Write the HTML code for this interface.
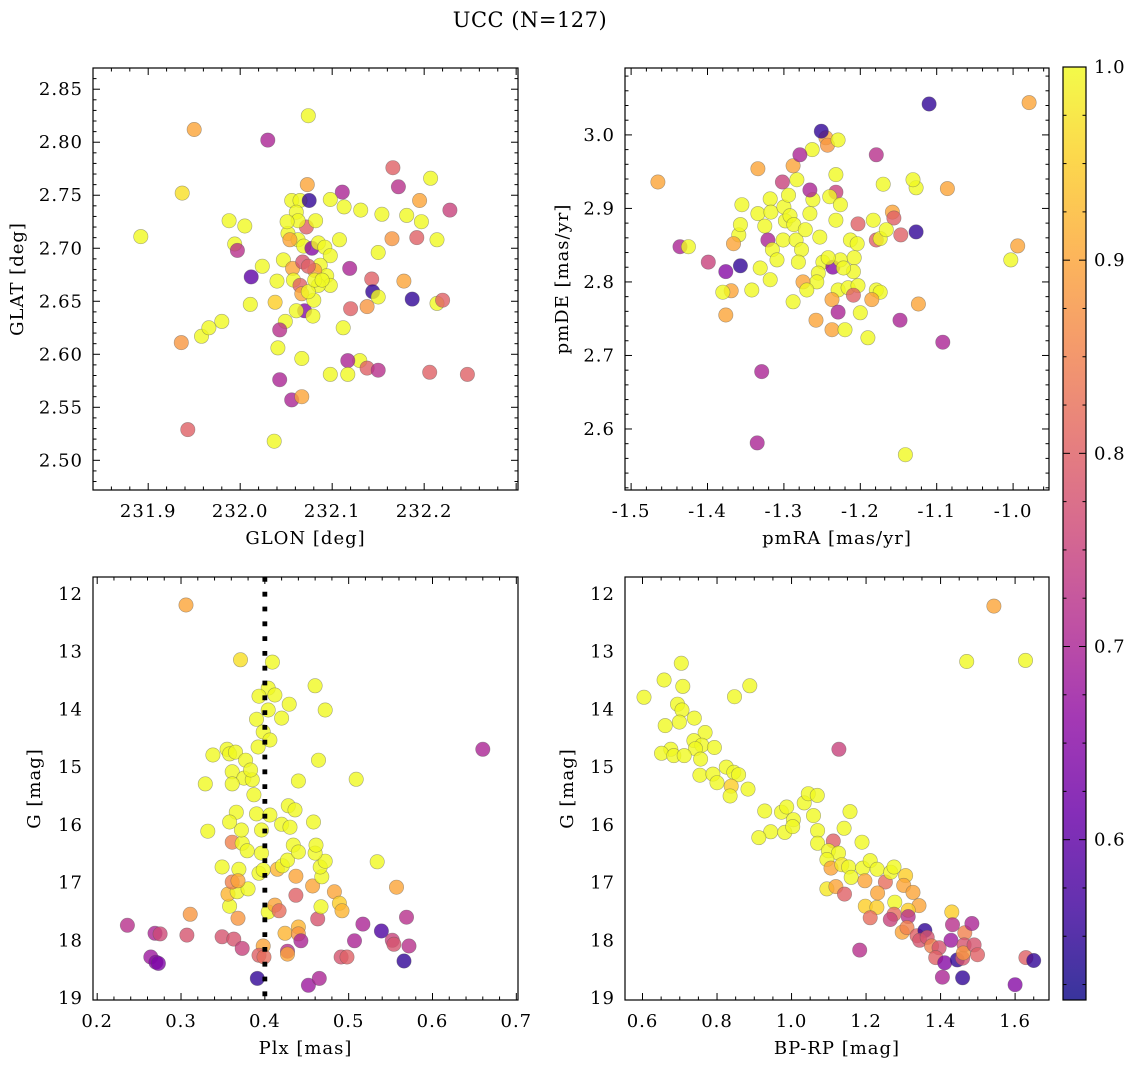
<!DOCTYPE html>
<html><head><meta charset="utf-8">
<style>
html,body{margin:0;padding:0;background:#fff;}
svg{display:block;font-family:"DejaVu Serif","Liberation Serif",serif;}
</style></head>
<body>
<svg id="fig" width="1136" height="1067" viewBox="0 0 1136 1067" xmlns="http://www.w3.org/2000/svg">
<defs>
<linearGradient id="cbgrad" x1="0" y1="1" x2="0" y2="0">
<stop offset="0" stop-color="#0d0887"/><stop offset="0.1" stop-color="#41049d"/><stop offset="0.2" stop-color="#6a00a8"/><stop offset="0.3" stop-color="#8f0da4"/><stop offset="0.4" stop-color="#b12a90"/><stop offset="0.5" stop-color="#cc4778"/><stop offset="0.6" stop-color="#e16462"/><stop offset="0.7" stop-color="#f2844b"/><stop offset="0.8" stop-color="#fca636"/><stop offset="0.9" stop-color="#fcce25"/><stop offset="1" stop-color="#f0f921"/>
</linearGradient>
</defs>
<text x="530" y="27" text-anchor="middle" font-size="21" letter-spacing="0.5">UCC (N=127)</text>
</svg>
<script>
// ---- data ----
const p1_glon=[231.892,231.950,231.937,231.936,231.943,231.958,231.966,231.980,231.988,232.005,231.994,231.997,232.030,232.074,232.111,232.166,232.172,232.207,232.195,232.181,232.154,232.131,232.113,232.098,232.197,232.214,232.192,232.228,232.165,232.150,232.119,232.143,232.178,232.144,232.187,232.150,232.214,232.220,232.138,232.120,232.112,232.130,232.117,232.138,232.150,232.098,232.117,232.206,232.247,232.067,232.043,232.056,232.067,232.037,232.012,232.011,232.024,232.047,232.052,232.038,232.049,232.041,232.043,232.056,232.065,232.075,232.073,232.061,232.072,232.082,232.063,232.069,232.078,232.085,232.092,232.098,232.087,232.094,232.081,232.057,232.058,232.065,232.067,232.070,232.061,232.080,232.079,232.098,232.085,232.054,232.068,232.074,232.108,232.063,232.051,232.040,232.074,232.081,232.089];
const p1_glat=[2.711,2.812,2.752,2.611,2.529,2.617,2.625,2.631,2.726,2.721,2.704,2.698,2.802,2.825,2.753,2.776,2.758,2.766,2.745,2.731,2.732,2.736,2.739,2.746,2.725,2.708,2.710,2.736,2.709,2.696,2.681,2.671,2.669,2.659,2.652,2.654,2.648,2.651,2.645,2.643,2.625,2.594,2.594,2.587,2.585,2.581,2.581,2.583,2.581,2.596,2.576,2.557,2.560,2.518,2.673,2.647,2.683,2.689,2.714,2.649,2.631,2.606,2.623,2.745,2.745,2.745,2.760,2.734,2.720,2.726,2.708,2.702,2.700,2.705,2.701,2.693,2.684,2.674,2.679,2.681,2.670,2.665,2.657,2.641,2.641,2.651,2.636,2.665,2.665,2.708,2.687,2.683,2.708,2.726,2.725,2.669,2.659,2.670,2.670];
const p1_prob=[1,0.9,0.97,0.88,0.8,1,1,1,1,1,1,0.72,0.7,1,0.7,0.8,0.72,1,0.9,1,1,1,1,1,1,1,0.8,0.75,0.88,1,0.7,0.8,0.9,0.55,0.55,1,1,0.8,0.88,0.8,1,1,0.7,0.8,0.72,1,1,0.8,0.8,1,0.7,0.7,0.9,1,0.6,1,1,1,1,0.95,1,1,0.72,1,1,0.55,0.9,1,0.8,1,1,1,0.65,1,1,1,1,1,0.9,0.9,1,0.8,0.9,0.65,1,1,1,1,1,0.9,0.78,0.8,1,1,1,1,1,1,1];

const p2_pmra=[-1.465,-1.436,-1.425,-1.399,-1.376,-1.357,-1.359,-1.366,-1.355,-1.357,-1.369,-1.380,-1.376,-1.342,-1.334,-1.334,-1.325,-1.318,-1.317,-1.321,-1.315,-1.331,-1.318,-1.309,-1.301,-1.298,-1.300,-1.292,-1.302,-1.283,-1.294,-1.287,-1.284,-1.277,-1.281,-1.272,-1.266,-1.262,-1.266,-1.263,-1.288,-1.279,-1.245,-1.243,-1.251,-1.229,-1.232,-1.232,-1.240,-1.232,-1.253,-1.249,-1.255,-1.236,-1.226,-1.229,-1.237,-1.237,-1.258,-1.229,-1.213,-1.208,-1.209,-1.204,-1.216,-1.200,-1.190,-1.179,-1.179,-1.174,-1.170,-1.158,-1.156,-1.148,-1.127,-1.110,-1.127,-1.131,-1.124,-1.086,-1.092,-1.329,-1.335,-1.141,-1.003,-0.994,-0.979,-1.179,-1.166,-1.147,-1.183,-1.203,-1.174,-1.185,-1.203,-1.220,-1.209,-1.257,-1.226,-1.242,-1.222,-1.275,-1.270,-1.288];
const p2_pmde=[2.936,2.848,2.848,2.827,2.814,2.822,2.864,2.852,2.905,2.878,2.788,2.786,2.755,2.789,2.954,2.893,2.876,2.913,2.895,2.857,2.844,2.819,2.803,2.830,2.857,2.883,2.902,2.890,2.936,2.939,2.918,2.878,2.857,2.844,2.827,2.871,2.893,2.912,2.925,2.980,2.958,2.973,2.996,2.986,3.005,2.993,2.946,2.922,2.916,2.884,2.861,2.827,2.812,2.820,2.830,2.789,2.776,2.735,2.748,2.759,2.857,2.833,2.814,2.852,2.792,2.758,2.724,2.789,2.857,2.859,2.933,2.895,2.887,2.748,2.868,3.042,2.928,2.939,2.770,2.927,2.718,2.678,2.581,2.565,2.830,2.849,3.044,2.973,2.871,2.864,2.884,2.879,2.786,2.776,2.795,2.735,2.782,2.800,2.905,2.833,2.819,2.800,2.789,2.773];
const p2_prob=[0.9,0.7,1,0.75,0.65,0.55,1,0.9,1,1,0.9,1,0.9,1,0.9,1,1,1,1,0.7,1,1,1,1,1,1,1,1,0.75,1,1,1,1,1,1,1,1,1,0.7,1,0.9,0.7,0.9,0.88,0.55,1,1,0.75,1,1,1,1,1,0.65,1,1,0.9,0.9,0.9,0.7,1,1,1,1,1,1,1,1,0.8,1,1,0.9,0.8,0.7,0.55,0.55,1,1,0.9,0.9,0.7,0.7,0.7,1,1,0.9,0.9,0.72,1,0.8,1,0.8,1,0.9,1,1,0.8,1,1,1,1,0.9,1,1];

const p3_plx=[0.236,0.269,0.275,0.264,0.270,0.273,0.311,0.307,0.349,0.363,0.373,0.368,0.349,0.369,0.358,0.356,0.367,0.380,0.361,0.368,0.361,0.373,0.393,0.398,0.398,0.393,0.399,0.391,0.404,0.412,0.417,0.415,0.421,0.427,0.434,0.440,0.437,0.437,0.424,0.440,0.440,0.427,0.427,0.443,0.452,0.465,0.463,0.457,0.467,0.468,0.466,0.472,0.460,0.483,0.489,0.492,0.491,0.498,0.507,0.517,0.539,0.552,0.554,0.572,0.569,0.566,0.534,0.557,0.306,0.371,0.409,0.404,0.412,0.393,0.404,0.390,0.398,0.392,0.355,0.338,0.329,0.358,0.365,0.361,0.375,0.361,0.385,0.387,0.390,0.366,0.372,0.358,0.332,0.379,0.396,0.396,0.406,0.428,0.420,0.436,0.430,0.406,0.420,0.429,0.460,0.472,0.464,0.440,0.509,0.458,0.461,0.377,0.383,0.660];
const p3_g=[17.74,17.88,17.89,18.29,18.38,18.40,17.55,17.91,17.94,17.98,18.14,17.62,16.73,16.77,17.41,17.20,17.16,17.11,16.99,16.97,16.30,16.32,16.84,16.78,18.10,18.26,18.29,18.66,17.51,17.39,17.49,16.77,16.71,16.61,16.35,16.47,16.89,17.22,17.88,17.77,17.89,18.19,18.24,18.01,18.78,18.66,17.63,17.06,17.42,16.90,16.73,16.63,16.49,17.16,17.36,17.49,18.29,18.29,18.01,17.72,17.84,18.00,18.07,18.10,17.60,18.36,16.64,17.08,12.19,13.14,13.18,13.63,13.75,13.77,14.01,14.17,14.39,14.65,14.69,14.79,15.29,14.77,14.74,15.08,15.19,15.29,15.22,15.48,15.81,15.78,16.09,15.95,16.11,16.45,16.49,16.09,15.83,15.67,15.99,15.74,16.04,14.53,14.15,13.91,13.59,14.01,14.88,15.24,15.21,15.95,16.35,14.88,15.05,14.69];
const p3_prob=[0.72,0.7,0.76,0.68,0.65,0.64,0.88,0.78,0.78,0.78,0.75,0.88,1,1,1,0.92,1,1,0.85,0.9,0.85,1,1,1,0.9,0.8,0.82,0.55,1,0.9,0.82,0.92,1,1,1,1,0.9,0.8,0.92,0.92,0.88,0.72,0.9,0.7,0.68,0.7,0.78,0.9,1,1,1,1,1,0.9,0.95,0.92,0.78,0.8,0.7,0.7,0.58,0.75,0.78,0.72,0.72,0.55,1,0.9,0.9,0.97,1,1,1,1,1,1,1,1,1,1,1,1,1,1,1,1,1,1,1,1,1,1,1,1,1,1,1,1,1,1,1,1,1,1,1,1,1,1,1,1,1,1,1,0.7];

const p4_bprp=[1.543,1.470,1.628,0.604,0.658,0.704,0.708,0.847,0.888,0.694,0.706,0.739,0.661,0.699,0.768,0.738,0.759,0.793,0.742,0.676,0.651,0.684,0.712,0.756,0.754,0.789,0.800,0.825,0.845,0.858,0.838,0.835,0.883,1.127,0.928,0.944,0.912,0.973,0.987,0.982,1.005,1.003,1.034,1.045,1.069,1.059,1.070,1.070,1.157,1.141,1.112,1.189,1.099,1.126,1.095,1.106,1.135,1.153,1.160,1.095,1.119,1.142,1.191,1.211,1.230,1.197,1.252,1.231,1.266,1.275,1.306,1.301,1.326,1.198,1.229,1.277,1.342,1.313,1.211,1.275,1.265,1.313,1.297,1.310,1.337,1.358,1.344,1.364,1.376,1.396,1.387,1.411,1.430,1.432,1.428,1.445,1.459,1.465,1.463,1.461,1.484,1.490,1.499,1.183,1.405,1.459,1.600,1.629,1.650];
const p4_g=[12.21,13.17,13.15,13.79,13.49,13.20,13.60,13.78,13.59,13.91,14.01,14.15,14.28,14.22,14.40,14.54,14.62,14.66,14.68,14.69,14.76,14.80,14.80,14.86,15.14,15.12,15.27,15.00,15.09,15.13,15.33,15.50,15.38,14.69,15.76,16.12,16.22,15.78,15.69,16.13,15.91,16.03,15.62,15.46,15.49,15.84,16.10,16.32,15.77,16.06,16.28,16.30,16.45,16.49,16.60,16.75,16.69,16.73,16.91,17.11,17.07,17.20,16.75,16.62,16.77,16.97,16.99,17.18,16.82,16.73,16.88,17.05,17.17,17.41,17.43,17.34,17.40,17.48,17.61,17.55,17.64,17.59,17.86,17.78,17.92,17.83,18.00,17.95,18.10,18.13,18.30,18.39,17.51,17.73,18.00,18.34,18.31,17.87,18.08,18.22,17.71,18.08,18.25,18.17,18.64,18.65,18.77,18.30,18.35];
const p4_prob=[0.9,1,1,1,1,1,1,1,1,1,1,1,1,1,1,1,1,1,1,1,1,1,1,1,1,1,1,1,1,1,0.95,1,1,0.75,1,1,1,1,1,1,1,1,1,1,1,1,1,1,1,1,0.8,1,1,1,1,0.9,0.98,1,1,0.98,0.9,0.8,1,1,1,0.9,0.82,0.9,1,1,0.95,0.9,0.9,0.95,0.95,1,0.9,0.95,0.82,0.82,0.75,0.72,0.9,0.85,0.8,0.55,0.78,0.78,0.85,0.78,0.8,0.65,0.95,0.72,0.68,0.55,0.78,0.85,0.78,0.88,0.7,0.78,0.8,0.72,0.7,0.55,0.65,0.8,0.55];

const cbTicks=[0.6,0.7,0.8,0.9,1.0];
const plxRef=[0.4];

// ---- helpers ----
const NS="http://www.w3.org/2000/svg";
const svg=document.getElementById('fig');
const VMIN=0.517, VMAX=1.0;
const FS=18, LS=1;
const stops=["#0d0887","#41049d","#6a00a8","#8f0da4","#b12a90","#cc4778","#e16462","#f2844b","#fca636","#fcce25","#f0f921"];
function hex(h){return [parseInt(h.slice(1,3),16),parseInt(h.slice(3,5),16),parseInt(h.slice(5,7),16)];}
function plasma(v){let t=(v-VMIN)/(VMAX-VMIN);t=Math.max(0,Math.min(1,t));const f=t*10;const i=Math.min(9,Math.floor(f));const r=f-i;const a=hex(stops[i]),b=hex(stops[i+1]);return 'rgb('+a.map((x,k)=>Math.round(x+(b[k]-x)*r)).join(',')+')';}
function mk(tag,attrs,parent){const e=document.createElementNS(NS,tag);for(const k in attrs)e.setAttribute(k,attrs[k]);(parent||svg).appendChild(e);return e;}
function scale(d0,d1,r0,r1){return v=>r0+(v-d0)/(d1-d0)*(r1-r0);}

function panel(cfg){
  const g=mk('g',{});
  
  
  const {L,R,T,B}=cfg;
  const sx=scale(cfg.xd[0],cfg.xd[1],L,R), sy=scale(cfg.yd[0],cfg.yd[1],B,T);
  const clipId='clip-'+cfg.name;
  const cp=mk('clipPath',{id:clipId},g);mk('rect',{x:L,y:T,width:R-L,height:B-T},cp);
  const pg=mk('g',{'clip-path':'url(#'+clipId+')'},g);
  
  
  for(let i=0;i<cfg.xs.length;i++){
    const c=mk('circle',{cx:sx(cfg.xs[i]).toFixed(1),cy:sy(cfg.ys[i]).toFixed(1),r:7.2,fill:plasma(cfg.cs[i]),'fill-opacity':0.8,stroke:'#555','stroke-opacity':0.5,'stroke-width':0.6},pg);
    
    
  }
  if(cfg.vline){for(const v of cfg.vline){const l=mk('line',{x1:sx(v),x2:sx(v),y1:T,y2:B,stroke:'#000','stroke-width':4.8,'stroke-dasharray':'4.8 10'},g);
    
    }}
  const fr=mk('rect',{x:L,y:T,width:R-L,height:B-T,fill:'none',stroke:'#000','stroke-width':1.2},g);
  
  
  const tg=mk('g',{stroke:'#000','stroke-width':1},g);
  const eps=1e-9;
  for(let v=Math.ceil(cfg.xd[0]/cfg.xmin-eps)*cfg.xmin; v<=cfg.xd[1]+eps; v+=cfg.xmin){
    const x=sx(v);const maj=Math.abs(v/cfg.xmaj-Math.round(v/cfg.xmaj))<1e-6;const len=maj?7:3.5;
    mk('line',{x1:x,x2:x,y1:B,y2:B-len},tg);mk('line',{x1:x,x2:x,y1:T,y2:T+len},tg);
  }
  for(let v=Math.ceil(cfg.yd[0]/cfg.ymin-eps)*cfg.ymin; v<=cfg.yd[1]+eps; v+=cfg.ymin){
    const y=sy(v);const maj=Math.abs(v/cfg.ymaj-Math.round(v/cfg.ymaj))<1e-6;const len=maj?7:3.5;
    mk('line',{x1:L,x2:L+len,y1:y,y2:y},tg);mk('line',{x1:R,x2:R-len,y1:y,y2:y},tg);
  }
  for(const v of cfg.xt){const t=mk('text',{x:sx(v),y:B+27,'text-anchor':'middle','font-size':FS,'letter-spacing':LS},g);t.textContent=cfg.xfmt(v);
    }
  for(const v of cfg.yt){const t=mk('text',{x:L-10,y:sy(v)+6,'text-anchor':'end','font-size':FS,'letter-spacing':LS},g);t.textContent=cfg.yfmt(v);
    }
  const xl=mk('text',{x:(L+R)/2,y:B+54,'text-anchor':'middle','font-size':FS,'letter-spacing':LS},g);xl.textContent=cfg.xlabel;
  
  const yx=cfg.ylx, yy=(T+B)/2;
  const yl=mk('text',{x:yx,y:yy,'text-anchor':'middle','font-size':FS,'letter-spacing':LS,transform:'rotate(-90 '+yx+' '+yy+')'},g);yl.textContent=cfg.ylabel;
  
}
const f1=v=>v.toFixed(1), f2=v=>v.toFixed(2), f0=v=>v.toFixed(0);
function rng(a,b,s){const o=[];for(let v=a;v<=b+1e-9;v+=s)o.push(Math.round(v*1000)/1000);return o;}

panel({name:'glon-glat-panel',L:93,R:518,T:68,B:490,xd:[231.84,232.302],yd:[2.472,2.87],xs:p1_glon,ys:p1_glat,cs:p1_prob,
  xmaj:0.1,xmin:0.02,ymaj:0.05,ymin:0.01,xt:rng(231.9,232.2,0.1),yt:rng(2.5,2.85,0.05),xfmt:f1,yfmt:f2,xlabel:'GLON [deg]',ylabel:'GLAT [deg]',ylx:23});
panel({name:'pm-panel',L:625,R:1049,T:68,B:490,xd:[-1.508,-0.953],yd:[2.517,3.091],xs:p2_pmra,ys:p2_pmde,cs:p2_prob,
  xmaj:0.1,xmin:0.02,ymaj:0.1,ymin:0.02,xt:rng(-1.5,-1.0,0.1),yt:rng(2.6,3.0,0.1),xfmt:f1,yfmt:f1,xlabel:'pmRA [mas/yr]',ylabel:'pmDE [mas/yr]',ylx:568});
panel({name:'plx-g-panel',L:93,R:518,T:577,B:1000,xd:[0.195,0.702],yd:[19.035,11.705],xs:p3_plx,ys:p3_g,cs:p3_prob,vline:plxRef,
  xmaj:0.1,xmin:0.02,ymaj:1,ymin:0.2,xt:rng(0.2,0.7,0.1),yt:rng(12,19,1),xfmt:f1,yfmt:f0,xlabel:'Plx [mas]',ylabel:'G [mag]',ylx:40});
panel({name:'cmd-panel',L:625,R:1049,T:577,B:1000,xd:[0.553,1.691],yd:[19.035,11.705],xs:p4_bprp,ys:p4_g,cs:p4_prob,
  xmaj:0.2,xmin:0.05,ymaj:1,ymin:0.2,xt:rng(0.6,1.6,0.2),yt:rng(12,19,1),xfmt:f1,yfmt:f0,xlabel:'BP-RP [mag]',ylabel:'G [mag]',ylx:573});

// colorbar
const cb=mk('g',{});


const CL=1063,CR=1086,CT=67,CB=1000;
mk('rect',{x:CL,y:CT,width:CR-CL,height:CB-CT,fill:'url(#cbgrad)','fill-opacity':0.82},cb);
mk('rect',{x:CL,y:CT,width:CR-CL,height:CB-CT,fill:'none',stroke:'#000','stroke-width':1.2},cb);
const cs=scale(VMIN,VMAX,CB,CT);
for(let v=0.525;v<=1.0001;v+=0.025){const y=cs(v);const maj=Math.abs(v*10-Math.round(v*10))<1e-6;
  mk('line',{x1:CR,x2:CR-(maj?7:3.5),y1:y,y2:y,stroke:'#000','stroke-width':1},cb);
  mk('line',{x1:CL,x2:CL+(maj?7:3.5),y1:y,y2:y,stroke:'#000','stroke-width':1},cb);}
for(const v of cbTicks){const t=mk('text',{x:CR+8,y:cs(v)+6,'font-size':FS,'letter-spacing':LS},cb);t.textContent=v.toFixed(1);
  }
</script>
</body></html>
